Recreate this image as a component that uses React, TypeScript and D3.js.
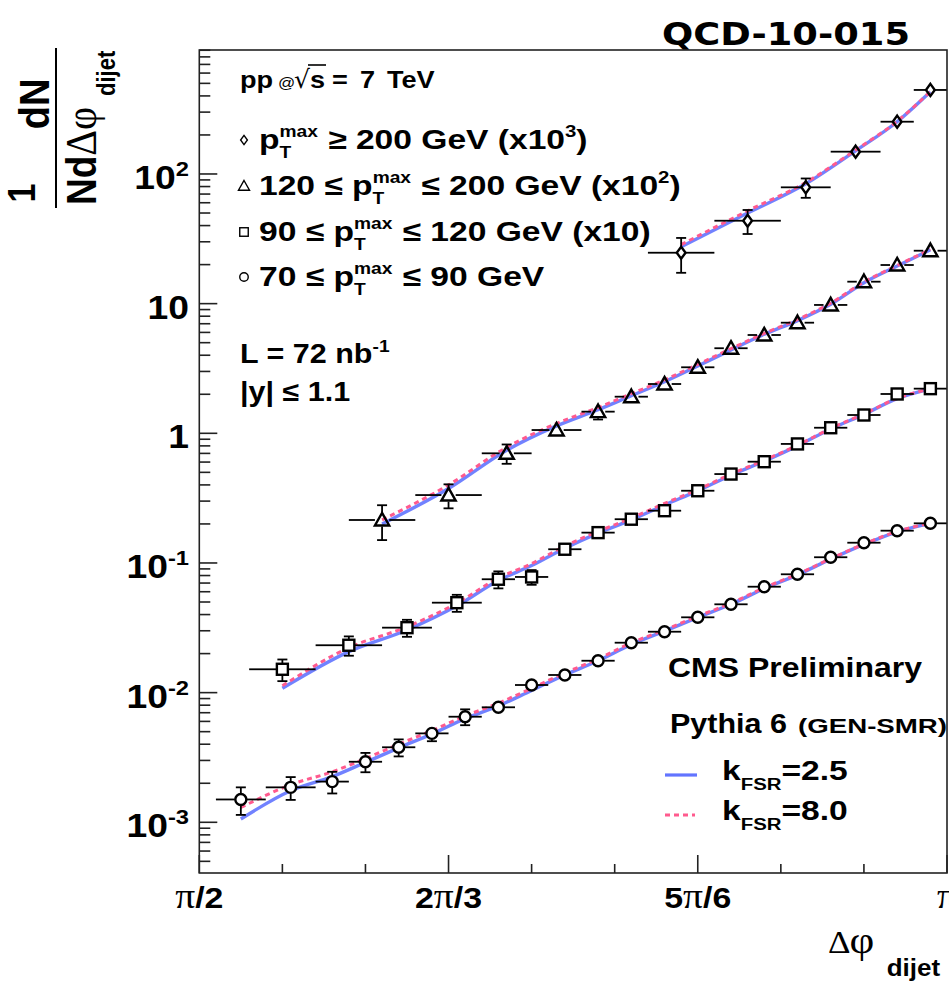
import React from "react";
import * as d3 from "d3";

const W = 949;
const H = 982;
const FRAME = { left: 199.3, right: 947, top: 50, bottom: 873 };
const SX = 1.13; // horizontal stretch of the text in the reference
const SANS = "'Liberation Sans', Arial, Helvetica, sans-serif";
const SERIF = "'Liberation Serif', 'DejaVu Serif', serif";

// ---- axis ticks (x in degrees) ----
const xMajorTicks = [90, 120, 150, 180];
const xMajorLabels = ["π/2", "2π/3", "5π/6", "π"];
const xMinorTicks = [100, 110, 130, 140, 160, 170];
const yMajorTicks = [1e-3, 1e-2, 1e-1, 1, 10, 100];
const yLabelBase = ["10", "10", "10", "1", "10", "10"];
const yLabelExp = ["-3", "-2", "-1", "", "", "2"];

// ---- 70 <= pT <= 90 GeV (circles) ----
const circleEdges = [92, 98, 104, 108, 112, 116, 120, 124, 128, 132, 136, 140, 144, 148, 152, 156, 160, 164, 168, 172, 176, 180];
const circleValues = [1.5e-3, 1.86e-3, 2.06e-3, 2.93e-3, 3.79e-3, 4.85e-3, 6.52e-3, 7.71e-3, 0.01145, 0.01368, 0.01762, 0.02427, 0.0295, 0.0381, 0.048, 0.0656, 0.0818, 0.1107, 0.1433, 0.1774, 0.2022];
const circleErrors = [0.24, 0.2, 0.19, 0.17, 0.15, 0.13, 0.14, 0.1, 0.08, 0.07, 0.06, 0.06, 0.05, 0.05, 0.05, 0.05, 0.05, 0.05, 0.05, 0.05, 0.05];
const circleK25 = [1.06e-3, 1.75e-3, 2.25e-3, 2.9e-3, 3.75e-3, 4.8e-3, 6.3e-3, 7.9e-3, 0.0104, 0.0137, 0.0176, 0.0235, 0.0298, 0.038, 0.048, 0.0635, 0.081, 0.107, 0.139, 0.174, 0.202];
const circleK80 = [1.3e-3, 1.95e-3, 2.45e-3, 3.1e-3, 4.0e-3, 5.1e-3, 6.6e-3, 8.3e-3, 0.0108, 0.0142, 0.0182, 0.0242, 0.0305, 0.0388, 0.049, 0.0645, 0.082, 0.108, 0.14, 0.175, 0.203];

// ---- 90 <= pT <= 120 GeV (squares, x10) ----
const squareEdges = [96, 104, 112, 118, 124, 128, 132, 136, 140, 144, 148, 152, 156, 160, 164, 168, 172, 176, 180];
const squareValues = [0.01514, 0.0232, 0.0317, 0.0494, 0.0749, 0.078, 0.1276, 0.1714, 0.2175, 0.253, 0.3606, 0.485, 0.604, 0.828, 1.104, 1.384, 2.01, 2.21];
const squareErrors = [0.19, 0.17, 0.15, 0.15, 0.15, 0.13, 0.1, 0.08, 0.07, 0.06, 0.06, 0.06, 0.06, 0.06, 0.06, 0.06, 0.06, 0.06];
const squareK25 = [0.0108, 0.0207, 0.0304, 0.0467, 0.0733, 0.0955, 0.13, 0.17, 0.215, 0.28, 0.36, 0.475, 0.61, 0.8, 1.08, 1.4, 1.85, 2.2];
const squareK80 = [0.0113, 0.0222, 0.0322, 0.049, 0.0765, 0.099, 0.135, 0.175, 0.222, 0.288, 0.368, 0.485, 0.62, 0.81, 1.09, 1.41, 1.86, 2.21];

// ---- 120 <= pT <= 200 GeV (triangles, x10^2) ----
const triangleEdges = [108, 116, 124, 130, 136, 140, 144, 148, 152, 156, 160, 164, 168, 172, 176, 180];
const triangleValues = [0.2145, 0.334, 0.701, 1.06, 1.469, 1.916, 2.4, 3.23, 4.53, 5.73, 7.13, 9.77, 14.77, 19.86, 25.6];
const triangleErrors = [0.3, 0.21, 0.17, 0.11, 0.13, 0.07, 0.06, 0.06, 0.06, 0.06, 0.06, 0.06, 0.06, 0.06, 0.06];
const triangleK25 = [0.2, 0.375, 0.74, 1.14, 1.52, 1.95, 2.5, 3.3, 4.4, 5.8, 7.4, 9.9, 14.5, 19.5, 26];
const triangleK80 = [0.215, 0.4, 0.78, 1.19, 1.58, 2.02, 2.58, 3.4, 4.5, 5.9, 7.55, 10.1, 14.7, 19.7, 26.2];

// ---- pT >= 200 GeV (diamonds, x10^3) ----
const diamondEdges = [144, 152, 160, 166, 172, 176, 180];
const diamondValues = [24.7, 43.6, 78.9, 148.6, 253, 444.6];
const diamondErrors = [0.3, 0.21, 0.17, 0.09, 0.07, 0.05];
const diamondK25 = [27.5, 50, 84, 151, 253, 431];
const diamondK80 = [28.5, 52, 86, 153, 255, 433];

const legendLabels = ["≥ 200 GeV (x10", "≤ 200 GeV (x10", "≤ 120 GeV (x10)", "≤ 90 GeV"];
const legendPrefix = ["", "120 ≤ ", "90 ≤ ", "70 ≤ "];
const legendExp = ["3", "2", "", ""];

const BLUE = "#6274ff";
const PINK = "#ff5a8e";

type Shape = "circle" | "square" | "triangle" | "diamond";

const series: { shape: Shape; edges: number[]; values: number[]; errors: number[]; k25: number[]; k80: number[] }[] = [
  { shape: "circle", edges: circleEdges, values: circleValues, errors: circleErrors, k25: circleK25, k80: circleK80 },
  { shape: "square", edges: squareEdges, values: squareValues, errors: squareErrors, k25: squareK25, k80: squareK80 },
  { shape: "triangle", edges: triangleEdges, values: triangleValues, errors: triangleErrors, k25: triangleK25, k80: triangleK80 },
  { shape: "diamond", edges: diamondEdges, values: diamondValues, errors: diamondErrors, k25: diamondK25, k80: diamondK80 },
];

const MS = 1.1;
const halfSize: Record<Shape, [number, number]> = {
  circle: [5.5 * MS, 5.5 * MS],
  square: [5 * MS, 5 * MS],
  triangle: [6.5 * MS, 6 * MS],
  diamond: [4.2 * MS, 5.8 * MS],
};

function Marker({ shape, x, y, s = 1, sw = 2 }: { shape: Shape; x: number; y: number; s?: number; sw?: number }) {
  if (shape === "circle")
    return <circle cx={x} cy={y} r={5 * s} fill="white" stroke="black" strokeWidth={sw} />;
  if (shape === "square")
    return <rect x={x - 5 * s} y={y - 5 * s} width={10 * s} height={10 * s} fill="white" stroke="black" strokeWidth={sw} />;
  if (shape === "triangle")
    return (
      <path
        d={`M${x},${y - 6.5 * s}L${x + 6.5 * s},${y + 5 * s}L${x - 6.5 * s},${y + 5 * s}Z`}
        fill="none"
        stroke="black"
        strokeWidth={sw}
        strokeLinejoin="miter"
      />
    );
  return (
    <path
      d={`M${x},${y - 5.5 * s}L${x + 4 * s},${y}L${x},${y + 5.5 * s}L${x - 4 * s},${y}Z`}
      fill="none"
      stroke="black"
      strokeWidth={sw}
    />
  );
}

function T({ x, y, children, sx = SX, ...rest }: any) {
  return (
    <g transform={`translate(${x},${y}) scale(${sx},1)`}>
      <text x={0} y={0} fontFamily={SANS} fontWeight="bold" {...rest}>
        {children}
      </text>
    </g>
  );
}

export default function App() {
  const x = d3.scaleLinear().domain([90, 180]).range([FRAME.left, FRAME.right]);
  const y = d3.scaleLog().domain([4.064e-4, 904]).range([FRAME.bottom, FRAME.top]);

  const yTicksAll = y.ticks();
  const isMajor = (v: number) => Math.abs(Math.log10(v) - Math.round(Math.log10(v))) < 1e-6;

  const line = d3
    .line<[number, number]>()
    .x((d) => x(d[0]))
    .y((d) => y(d[1]))
    .curve(d3.curveMonotoneX);

  const legendRowY = [140, 186, 232, 277];
  const legendShapes: Shape[] = ["diamond", "triangle", "square", "circle"];

  return (
    <svg
      width={W}
      height={H}
      viewBox={`0 0 ${W} ${H}`}
      style={{ position: "absolute", left: 0, top: 0, display: "block", background: "white" }}
    >
      <rect x={0} y={0} width={W} height={H} fill="white" />

      {/* MC curves */}
      {series.map((s, si) => {
        const centers = s.values.map((_, i) => (s.edges[i] + s.edges[i + 1]) / 2);
        const d25 = line(centers.map((c, i) => [c, s.k25[i]] as [number, number])) || "";
        const d80 = line(centers.map((c, i) => [c, s.k80[i]] as [number, number])) || "";
        return (
          <g key={"mc" + si}>
            <path d={d25} fill="none" stroke={BLUE} strokeWidth={3.4} strokeOpacity={0.9} />
            <path d={d80} fill="none" stroke={PINK} strokeWidth={3} strokeDasharray="5,4" />
          </g>
        );
      })}

      {/* data points */}
      {series.map((s, si) => {
        const [hw, hh] = halfSize[s.shape];
        return (
          <g key={"data" + si} stroke="black" strokeWidth={1.8}>
            {s.values.map((v, i) => {
              const lo = s.edges[i];
              const hi = s.edges[i + 1];
              const cx = x((lo + hi) / 2);
              const cy = y(v);
              const yt = y(v * (1 + s.errors[i]));
              const yb = y(v * (1 - s.errors[i]));
              return (
                <g key={i}>
                  <line x1={x(lo)} x2={cx - hw} y1={cy} y2={cy} />
                  <line x1={cx + hw} x2={x(hi)} y1={cy} y2={cy} />
                  {yt < cy - hh - 1 && (
                    <>
                      <line x1={cx} x2={cx} y1={yt} y2={cy - hh} />
                      <line x1={cx - 5} x2={cx + 5} y1={yt} y2={yt} />
                    </>
                  )}
                  {yb > cy + hh + 1 && (
                    <>
                      <line x1={cx} x2={cx} y1={cy + hh} y2={yb} />
                      <line x1={cx - 5} x2={cx + 5} y1={yb} y2={yb} />
                    </>
                  )}
                  <Marker shape={s.shape} x={cx} y={cy} s={MS} sw={2.4} />
                </g>
              );
            })}
          </g>
        );
      })}

      {/* frame */}
      <rect
        x={FRAME.left}
        y={FRAME.top}
        width={FRAME.right - FRAME.left}
        height={FRAME.bottom - FRAME.top}
        fill="none"
        stroke="#222"
        strokeWidth={1.6}
      />

      {/* x ticks */}
      {xMajorTicks.map((t) => (
        <line key={"xM" + t} x1={x(t)} x2={x(t)} y1={FRAME.bottom} y2={FRAME.bottom - 18} stroke="#222" strokeWidth={1.6} />
      ))}
      {xMinorTicks.map((t) => (
        <line key={"xm" + t} x1={x(t)} x2={x(t)} y1={FRAME.bottom} y2={FRAME.bottom - 9} stroke="#222" strokeWidth={1.6} />
      ))}
      {xMajorTicks.map((t, i) => {
        const lab = xMajorLabels[i];
        const parts = lab.split("π");
        return (
          <T key={"xl" + t} x={x(t)} y={908} fontSize={30} textAnchor="middle">
            {parts[0]}
            <tspan fontFamily={SERIF} fontWeight="normal" fontSize={35}>π</tspan>
            {parts[1]}
          </T>
        );
      })}

      {/* y ticks */}
      {yTicksAll.map((t, i) => {
        const major = isMajor(t);
        const py = y(t);
        if (py < FRAME.top || py > FRAME.bottom) return null;
        return (
          <line
            key={"yt" + i}
            x1={FRAME.left}
            x2={FRAME.left + (major ? 18 : 11)}
            y1={py}
            y2={py}
            stroke="#222"
            strokeWidth={1.6}
          />
        );
      })}
      {yMajorTicks.map((t, i) => (
        <T key={"yl" + i} x={189} y={y(t) + 15} fontSize={33} textAnchor="end">
          {yLabelBase[i]}
          {yLabelExp[i] !== "" && (
            <tspan fontSize={21} dy={-13}>
              {yLabelExp[i]}
            </tspan>
          )}
        </T>
      ))}

      {/* y title */}
      <g transform={`scale(${SX},1) rotate(-90)`} fontFamily={SANS} fontWeight="bold">
        <text x={-193} y={31} fontSize={34} textAnchor="middle">1</text>
        <text x={-104} y={43} fontSize={38} textAnchor="middle">dN</text>
        <text x={-205} y={85} fontSize={37}>
          Nd
          <tspan fontFamily={SERIF} fontWeight="normal" fontSize={40}>Δφ</tspan>
        </text>
        <text x={-96} y={102} fontSize={22}>dijet</text>
      </g>
      <line x1={56} x2={56} y1={48} y2={208} stroke="black" strokeWidth={2} />

      {/* x title */}
      <g transform={`translate(828,953) scale(${SX},1)`}>
        <text x={0} y={0} fontFamily={SERIF} fontSize={31}>Δ</text>
        <text x={19} y={0} fontFamily={SERIF} fontSize={38}>φ</text>
        <text x={52} y={23} fontFamily={SANS} fontWeight="bold" fontSize={23}>dijet</text>
      </g>

      {/* top-right title */}
      <T x={662} y={45} fontSize={32} fontFamily="'DejaVu Sans', sans-serif" sx={1}>
        <tspan textLength={248} lengthAdjust="spacingAndGlyphs">QCD-10-015</tspan>
      </T>

      {/* pp @ sqrt(s) = 7 TeV */}
      <T x={240} y={88} fontSize={24}>pp</T>
      <T x={278} y={88} fontSize={15} fontWeight="normal">@</T>
      <T x={294} y={88} fontSize={25} fontWeight="normal" fontFamily="'DejaVu Sans', sans-serif" sx={1}>√</T>
      <line x1={308} x2={326} y1={65} y2={65} stroke="black" strokeWidth={1.6} />
      <T x={310} y={88} fontSize={24}>s</T>
      <T x={332} y={88} fontSize={24} style={{ whiteSpace: "pre", wordSpacing: "4px" }}>= 7 TeV</T>

      {/* legend of data */}
      {legendRowY.map((ry, i) => (
        <g key={"leg" + i}>
          <Marker shape={legendShapes[i]} x={244} y={ry} s={0.85} sw={1.4} />
          <T x={259} y={ry + 9} fontSize={28} sx={1.2} style={{ whiteSpace: "pre" }}>
            {legendPrefix[i]}p
            <tspan fontSize={16} dy={-12}>max</tspan>
            <tspan fontSize={16} dx={-32} dy={21}>T</tspan>
            <tspan dx={23} dy={-9}>{" " + legendLabels[i]}</tspan>
            {legendExp[i] !== "" && (
              <>
                <tspan fontSize={17} dy={-12}>{legendExp[i]}</tspan>
                <tspan dy={12}>)</tspan>
              </>
            )}
          </T>
        </g>
      ))}

      <T x={240} y={363} fontSize={27} style={{ whiteSpace: "pre" }}>
        L = 72 nb
        <tspan fontSize={17} dy={-11}>-1</tspan>
      </T>
      <T x={240} y={401} fontSize={27} style={{ whiteSpace: "pre" }}>|y| ≤ 1.1</T>

      <T x={668} y={677} fontSize={28} sx={1}>
        <tspan textLength={254} lengthAdjust="spacingAndGlyphs">CMS Preliminary</tspan>
      </T>
      <T x={670} y={733} fontSize={27}>Pythia 6</T>
      <T x={798} y={733} fontSize={20} sx={1}>
        <tspan textLength={149} lengthAdjust="spacingAndGlyphs">(GEN-SMR)</tspan>
      </T>

      {/* MC legend */}
      <line x1={665} x2={697} y1={775} y2={775} stroke={BLUE} strokeWidth={3.2} />
      <line x1={665} x2={695} y1={815} y2={815} stroke={PINK} strokeWidth={3} strokeDasharray="5,4" />
      <T x={722} y={780} fontSize={28} sx={1.2}>
        k<tspan fontSize={17} dy={10}>FSR</tspan>
        <tspan dy={-10}>=2.5</tspan>
      </T>
      <T x={722} y={820} fontSize={28} sx={1.2}>
        k<tspan fontSize={17} dy={10}>FSR</tspan>
        <tspan dy={-10}>=8.0</tspan>
      </T>
    </svg>
  );
}
